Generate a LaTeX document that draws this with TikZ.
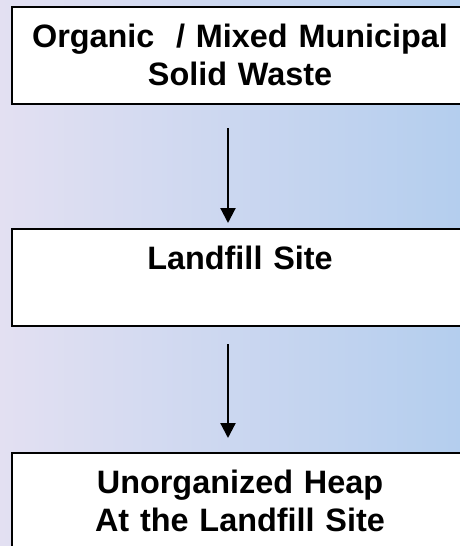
\documentclass[tikz,border=0pt]{standalone}
\usepackage{fontspec}
\setmainfont{Liberation Sans}
\usetikzlibrary{positioning,arrows.meta}
\definecolor{bgleft}{HTML}{E3E0F2}
\definecolor{bgright}{HTML}{B4CEEE}
\begin{document}
\begin{tikzpicture}[x=1pt,y=1pt]
    \tikzstyle{stage}=[draw=black,fill=white,rectangle,line width=2.5pt,outer sep=0pt,
      inner xsep=0pt,inner ysep=0pt,text width=456pt,align=center,
      text height=40pt,text depth=57pt,
      font=\bfseries\fontsize{32.4}{38}\selectfont]
    \tikzstyle{flow}=[draw=black,line width=2.2pt,-{Triangle[width=15pt,length=15pt]}]
    \useasboundingbox (0,0) rectangle (460,-546);
    \clip (0,0) rectangle (460,-546);
    \shade[left color=bgleft,right color=bgright] (0,0) rectangle (460,-546);
    \node[stage,anchor=north west] (waste) at (12,-7) {Organic\ \ / Mixed Municipal\\Solid Waste};
    \node[stage,below=125pt of waste] (site) {Landfill Site};
    \node[stage,below=127pt of site] (heap) {Unorganized Heap\\At the Landfill Site};
    \draw[flow,shorten <=24pt,shorten >=6pt] ([xshift=-12pt]waste.south) -- ([xshift=-12pt]site.north);
    \draw[flow,shorten <=18pt,shorten >=15pt] ([xshift=-12pt]site.south) -- ([xshift=-12pt]heap.north);
\end{tikzpicture}
\end{document}
